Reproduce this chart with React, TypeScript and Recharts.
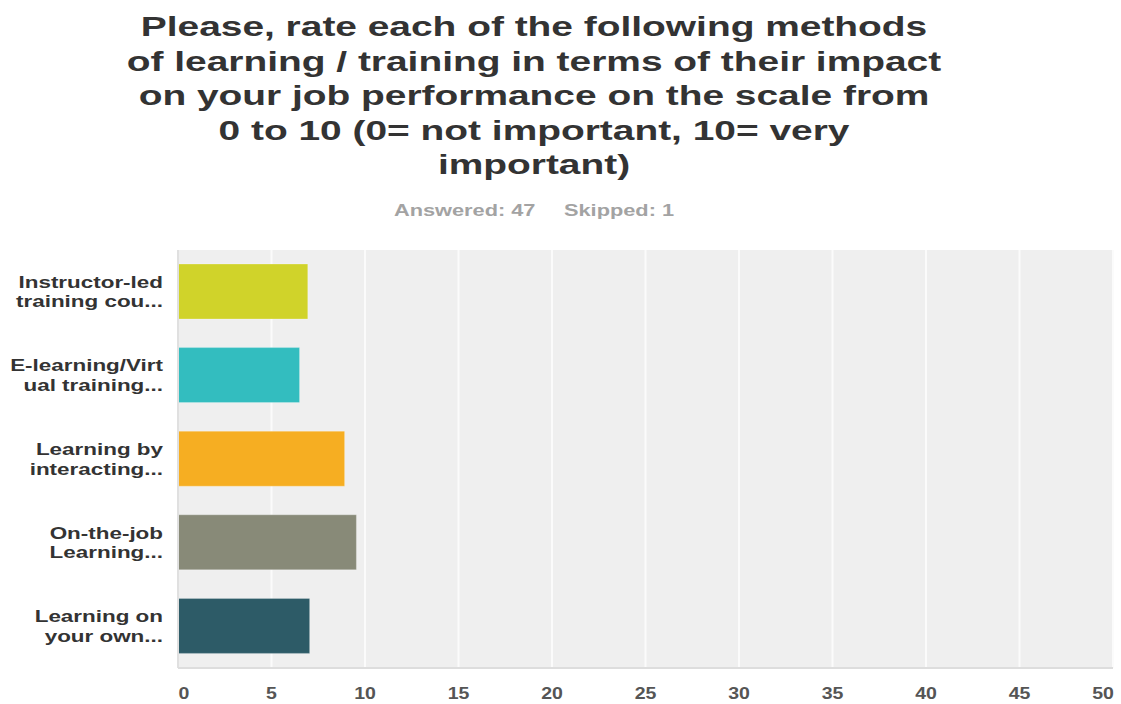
import { BarChart, Bar, XAxis, YAxis, CartesianGrid, Cell, ReferenceLine } from 'recharts';

const categories = [
  'Instructor-led training cou...',
  'E-learning/Virtual training...',
  'Learning by interacting...',
  'On-the-job Learning...',
  'Learning on your own...',
];

// how each category label is wrapped on the axis
const labelLines: Record<string, string[]> = {
  'Instructor-led training cou...': ['Instructor-led', 'training cou...'],
  'E-learning/Virtual training...': ['E-learning/Virt', 'ual training...'],
  'Learning by interacting...': ['Learning by', 'interacting...'],
  'On-the-job Learning...': ['On-the-job', 'Learning...'],
  'Learning on your own...': ['Learning on', 'your own...'],
};

const scores = [6.94, 6.5, 8.91, 9.54, 7.04];
const barColors = ['#d0d32a', '#33bdbf', '#f6ae22', '#888a78', '#2d5b67'];
const xTicks = [0, 5, 10, 15, 20, 25, 30, 35, 40, 45, 50];

const answered = 47;
const skipped = 1;

const data = categories.map((name, i) => ({ name, score: scores[i] }));

const STRETCH = 1.32;

const CategoryTick = (props: any) => {
  const { x, y, payload } = props;
  const lines = labelLines[payload.value] || [payload.value];
  return (
    <g>
      {lines.map((line, i) => (
        <text
          key={i}
          transform={`translate(${x - 7},${y - 4 + i * 19.5}) scale(${STRETCH},1)`}
          textAnchor="end"
          fontSize={17}
          fontWeight="bold"
          fill="#333"
          fontFamily="'Liberation Sans', Arial, sans-serif"
        >
          {line}
        </text>
      ))}
    </g>
  );
};

const ValueTick = (props: any) => {
  const { x, y, payload } = props;
  let shift = 0;
  if (payload.value === 0) shift = 6;
  if (payload.value === 50) shift = -10;
  return (
    <text
      transform={`translate(${x + shift},${y + 23}) scale(1.22,1)`}
      textAnchor="middle"
      fontSize={16}
      fontWeight="bold"
      fill="#555"
      fontFamily="'Liberation Sans', Arial, sans-serif"
    >
      {payload.value}
    </text>
  );
};

export default function App() {
  return (
    <div style={{ position: 'absolute', left: 0, top: 0, width: 1121, height: 704, background: '#fff', fontFamily: "'Liberation Sans', Arial, sans-serif" }}>
      <div
        style={{
          position: 'absolute',
          left: 0,
          top: 10,
          width: 1068,
          textAlign: 'center',
          fontSize: 27,
          lineHeight: '34.5px',
          fontWeight: 'bold',
          color: '#333',
          transform: 'scaleX(1.44)',
          transformOrigin: '534px 0',
        }}
      >
        <div>Please, rate each of the following methods</div>
        <div>of learning / training in terms of their impact</div>
        <div>on your job performance on the scale from</div>
        <div>0 to 10 (0= not important, 10= very</div>
        <div>important)</div>
      </div>
      <div
        style={{
          position: 'absolute',
          left: 0,
          top: 200,
          width: 1068,
          textAlign: 'center',
          fontSize: 16,
          lineHeight: '22px',
          fontWeight: 'bold',
          color: '#a3a3a3',
          transform: 'scaleX(1.36)',
          transformOrigin: '534px 0',
        }}
      >
        <span>Answered: {answered}</span>
        <span style={{ marginLeft: 21 }}>Skipped: {skipped}</span>
      </div>
      <div style={{ position: 'absolute', left: 0, top: 0 }}>
        <BarChart
          width={1121}
          height={704}
          data={data}
          layout="vertical"
          margin={{ top: 250, right: 8, bottom: 0, left: 0 }}
        >
          <CartesianGrid horizontal={false} stroke="#fbfbfb" strokeWidth={2} fill="#efefef" />
          <XAxis
            type="number"
            domain={[0, 50]}
            ticks={xTicks}
            axisLine={{ stroke: '#dddddd', strokeWidth: 2 }}
            tickLine={false}
            height={36}
            tick={<ValueTick />}
            interval={0}
          />
          <YAxis
            type="category"
            dataKey="name"
            width={178}
            axisLine={false}
            tickLine={false}
            tick={<CategoryTick />}
            interval={0}
          />
          <ReferenceLine x={0} stroke="#e0e0e0" strokeWidth={2} />
          <Bar dataKey="score" barSize={55} isAnimationActive={false}>
            {data.map((d, i) => (
              <Cell key={d.name} fill={barColors[i]} stroke="rgba(255,255,255,0.25)" />
            ))}
          </Bar>
        </BarChart>
      </div>
    </div>
  );
}
